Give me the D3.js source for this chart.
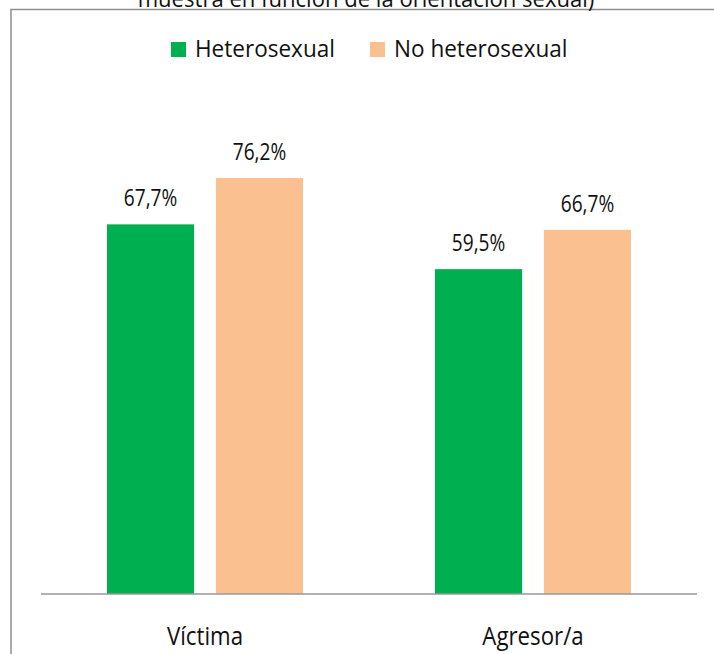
<!DOCTYPE html>
<html>
<head>
<meta charset="utf-8">
<script src="https://cdn.jsdelivr.net/npm/d3@7"></script>
<style>
  html, body { margin: 0; padding: 0; background: #fff; }
  svg { display: block; }
  text { font-family: "Open Sans", "Noto Sans", sans-serif; fill: #111; }
</style>
</head>
<body>
<svg id="chart" width="714" height="654"></svg>
<script>
// Categories, series and values
const categories = ["Víctima", "Agresor/a"];
const seriesNames = ["Heterosexual", "No heterosexual"];
const heterosexual = [67.7, 59.5];
const noHeterosexual = [76.2, 66.7];
const seriesColors = ["#00B050", "#FAC090"];
const titleLine = "muestra en función de la orientación sexual)";

const fmt = v => d3.format(".1f")(v).replace(".", ",") + "%";

const svg = d3.select("#chart");
const W = 714, H = 654;

// Chart frame (runs past the right and bottom edges)
svg.append("rect")
  .attr("x", 11).attr("y", 9.5)
  .attr("width", W + 20).attr("height", H + 20)
  .attr("fill", "none")
  .attr("stroke", "#8f8f8f")
  .attr("stroke-width", 1.5);

// Title line (second line of the title, partly above the frame)
svg.append("text")
  .attr("transform", "translate(366,7) scale(0.96,1)")
  .attr("text-anchor", "middle")
  .style("font-size", "23px")
  .text(titleLine);

// Scales
const x0 = d3.scaleBand().domain(categories).range([41, 697]).paddingInner(0).paddingOuter(0);
const x1 = d3.scaleBand().domain(seriesNames).range([66, 262]).paddingInner(0.2).paddingOuter(0);
const y = d3.scaleLinear().domain([0, 100]).range([594, 48]);

const rows = categories.map((c, i) => ({
  category: c,
  values: [
    { name: seriesNames[0], value: heterosexual[i], color: seriesColors[0] },
    { name: seriesNames[1], value: noHeterosexual[i], color: seriesColors[1] }
  ]
}));

const groups = svg.append("g").selectAll("g")
  .data(rows).join("g")
  .attr("transform", d => `translate(${x0(d.category)},0)`);

groups.selectAll("rect")
  .data(d => d.values).join("rect")
  .attr("x", d => x1(d.name))
  .attr("width", x1.bandwidth())
  .attr("y", d => y(d.value))
  .attr("height", d => y(0) - y(d.value))
  .attr("fill", d => d.color);

// Value labels, slightly condensed
groups.selectAll("text.val")
  .data(d => d.values).join("text")
  .attr("class", "val")
  .attr("transform", d => `translate(${x1(d.name) + x1.bandwidth() / 2},${y(d.value) - 18}) scale(0.83,1)`)
  .attr("text-anchor", "middle")
  .style("font-size", "23px")
  .text(d => fmt(d.value));

// Category axis
const xAxis = svg.append("g")
  .attr("transform", `translate(0,${y(0)})`)
  .call(d3.axisBottom(x0).tickSize(0).tickPadding(33));
xAxis.select(".domain").attr("stroke", "#989898").attr("stroke-width", 1.6)
  .attr("d", `M41,0H697`);
xAxis.selectAll(".tick text")
  .attr("fill", "#111")
  .attr("transform", "scale(0.89,1)")
  .style("font-family", "'Open Sans', 'Noto Sans', sans-serif")
  .style("font-size", "25px");

// Legend
const legend = svg.append("g");
const legendX = [171, 370];
seriesNames.forEach((name, i) => {
  const g = legend.append("g").attr("transform", `translate(${legendX[i]},42)`);
  g.append("rect").attr("width", 15).attr("height", 15).attr("fill", seriesColors[i]);
  g.append("text").attr("transform", "translate(24,15) scale(0.98,1)")
    .style("font-size", "23px")
    .text(name);
});
</script>
</body>
</html>
